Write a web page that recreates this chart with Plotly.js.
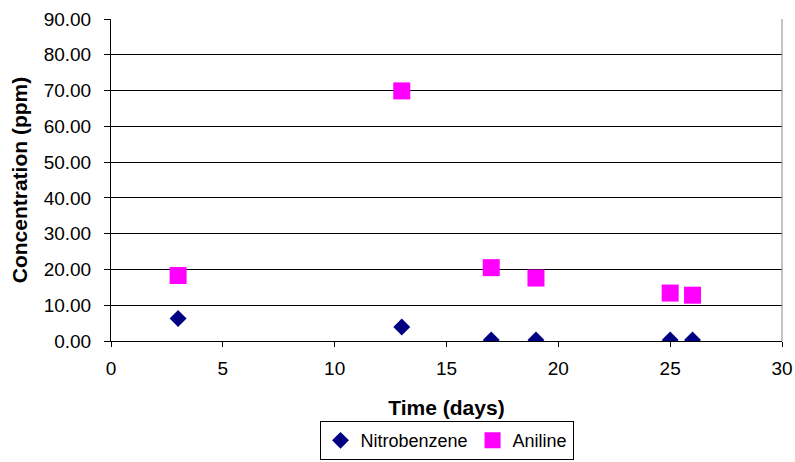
<!DOCTYPE html>
<html>
<head>
<meta charset="utf-8">
<script src="https://cdn.plot.ly/plotly-3.0.1.min.js"></script>
<style>html,body{margin:0;padding:0;background:#fff;}#chart{width:795px;height:462px;}</style>
</head>
<body>
<div id="chart"></div>
<script>
const days = [3, 13, 17, 19, 25, 26];
const nitrobenzene = [6.3, 3.9, 0.3, 0.3, 0.3, 0.3];
const aniline = [18.3, 69.9, 20.5, 17.6, 13.4, 12.8];
const seriesNames = ["Nitrobenzene", "Aniline"];

const font = "Liberation Sans, Arial, sans-serif";
const traces = [
  {x: days, y: nitrobenzene, name: seriesNames[0], type: "scatter", mode: "markers",
   marker: {symbol: "diamond", size: 13, color: "#000080"}},
  {x: days, y: aniline, name: seriesNames[1], type: "scatter", mode: "markers",
   marker: {symbol: "square", size: 17, color: "#FF00FF"}}
];
const layout = {
  width: 795, height: 462,
  margin: {l: 111, r: 13, t: 19, b: 121, autoexpand: false},
  paper_bgcolor: "#fff", plot_bgcolor: "#fff",
  font: {family: font, size: 19, color: "#000"},
  showlegend: true,
  legend: {orientation: "h", x: 0.5, xanchor: "center", xref: "paper",
           yref: "container", y: 0.004, yanchor: "bottom",
           bordercolor: "#000", borderwidth: 1, font: {size: 18}, itemwidth: 30,
           tracegroupgap: 0},
  xaxis: {range: [0, 30], tickvals: [0,5,10,15,20,25,30], ticks: "outside", ticklen: 5,
          tickcolor: "#000", showgrid: false, zeroline: false, showline: true,
          linecolor: "#000", linewidth: 1, mirror: false, automargin: false,
          ticklabelstandoff: 5,
          title: {text: "<b>Time (days)</b>", font: {size: 21}, standoff: 22},
          tickfont: {size: 19}},
  yaxis: {range: [0, 90], tickvals: [0,10,20,30,40,50,60,70,80,90], tickformat: ".2f",
          ticks: "outside", ticklen: 6, tickcolor: "#000", showgrid: true, gridcolor: "#000",
          gridwidth: 1, zeroline: false, showline: true, linecolor: "#000", automargin: false,
          ticklabelstandoff: 9,
          title: {text: "<b>Concentration (ppm)</b>", font: {size: 21}, standoff: 10},
          tickfont: {size: 19}},
  shapes: [{type: "line", xref: "paper", yref: "paper", x0: 1, x1: 1, y0: 0, y1: 1,
            line: {color: "#888", width: 1}}]
};
Plotly.newPlot("chart", traces, layout, {displayModeBar: false, staticPlot: true});
</script>
</body>
</html>
